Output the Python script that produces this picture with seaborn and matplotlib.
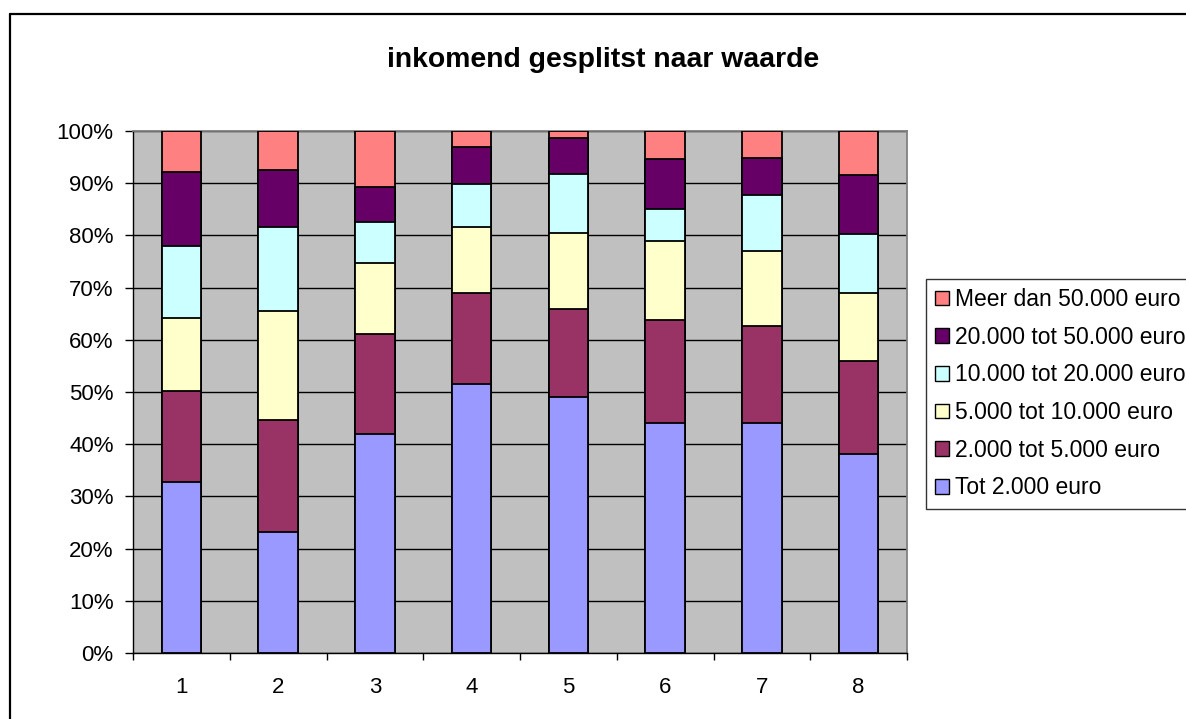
import numpy as np
import pandas as pd
import matplotlib
matplotlib.use("Agg")
import matplotlib.pyplot as plt
from matplotlib.lines import Line2D
import seaborn as sns

categories = [1, 2, 3, 4, 5, 6, 7, 8]
series_names = ["Tot 2.000 euro", "2.000 tot 5.000 euro", "5.000 tot 10.000 euro",
                "10.000 tot 20.000 euro", "20.000 tot 50.000 euro", "Meer dan 50.000 euro"]
tot_2000 = [32.7, 23.1, 41.9, 51.5, 49.1, 44.0, 44.0, 38.2]
r2000_5000 = [17.5, 21.6, 19.2, 17.5, 16.8, 19.7, 18.7, 17.7]
r5000_10000 = [14.0, 20.8, 13.7, 12.6, 14.6, 15.2, 14.4, 13.1]
r10000_20000 = [13.7, 16.1, 7.7, 8.2, 11.3, 6.1, 10.6, 11.2]
r20000_50000 = [14.3, 10.9, 6.7, 7.2, 6.9, 9.6, 7.2, 11.3]
meer_50000 = [7.8, 7.5, 10.8, 3.0, 1.3, 5.4, 5.1, 8.5]
colors = ["#9999FF", "#993366", "#FFFFCC", "#CCFFFF", "#660066", "#FF8080"]
yticks = [0, 10, 20, 30, 40, 50, 60, 70, 80, 90, 100]
ytick_labels = [f"{v}%" for v in yticks]
title = "inkomend gesplitst naar waarde"

sns.set_theme(style="white")
plt.rcParams['font.family'] = ['Liberation Sans', 'DejaVu Sans']
plt.rcParams['text.color'] = 'black'
plt.rcParams['xtick.color'] = 'black'
plt.rcParams['ytick.color'] = 'black'
plt.rcParams['axes.labelcolor'] = 'black'

vals = np.array([tot_2000, r2000_5000, r5000_10000, r10000_20000, r20000_50000, meer_50000])
vals = vals / vals.sum(axis=0) * 100
cum = np.cumsum(vals, axis=0)

fig = plt.figure(figsize=(11.86, 7.19), dpi=100)
ax = fig.add_axes([133/1186, 1-653/719, (907-133)/1186, (653-131)/719])
ax.set_facecolor("#C0C0C0")
ax.set_axisbelow(True)
ax.grid(axis='y', color='black', linewidth=1.0)

# draw cumulative bars from top series to bottom series so each overlays the previous
for k in range(len(series_names) - 1, -1, -1):
    df = pd.DataFrame({"cat": categories, "val": cum[k]})
    sns.barplot(data=df, x="cat", y="val", native_scale=True, width=0.41,
                color=colors[k], saturation=1, edgecolor="black", linewidth=1.3,
                errorbar=None, label=series_names[k], ax=ax, zorder=3)

ax.set_xlim(0.5, 8.5)
ax.set_ylim(0, 100)
ax.set_yticks(yticks)
ax.set_yticklabels(ytick_labels, fontsize=16)
ax.set_xticks(categories)
ax.set_xticklabels([str(c) for c in categories], fontsize=16)
ax.set_xticks(np.arange(0.5, 9.0, 1.0), minor=True)
ax.tick_params(axis='x', which='major', length=0, pad=17)
ax.tick_params(axis='x', which='minor', direction='out', length=5, width=1, color='black', bottom=True)
ax.tick_params(axis='y', direction='out', length=5.5, width=1, color='black', left=True, pad=8.5)
ax.set_xlabel("")
ax.set_ylabel("")
for s in ['top', 'right']:
    ax.spines[s].set_color('#808080')
    ax.spines[s].set_linewidth(1.3)
for s in ['left', 'bottom']:
    ax.spines[s].set_color('black')
    ax.spines[s].set_linewidth(1.0)

leg = ax.legend(loc='upper left', bbox_to_anchor=(926/1186, 1-279/719),
                bbox_transform=fig.transFigure, frameon=True, fancybox=False,
                edgecolor='black', fontsize=16.5, handlelength=0.6, handleheight=0.6,
                handletextpad=0.25, labelspacing=0.64, borderpad=0.4, borderaxespad=0)
leg.get_frame().set_linewidth(1.0)
for h in leg.legend_handles:
    h.set_edgecolor('black')
    h.set_linewidth(1.0)
for t in leg.get_texts():
    t.set_color('black')

fig.text(0.5084, 1-60/719, title, ha='center', va='center', fontsize=20.4,
         fontweight='bold', color='black')

# outer chart border (left and top visible)
fig.add_artist(Line2D([10/1186, 10/1186], [0, 1-14/719], color='black', linewidth=1.6,
                      transform=fig.transFigure))
fig.add_artist(Line2D([10/1186, 1.0], [1-14/719, 1-14/719], color='black', linewidth=1.6,
                      transform=fig.transFigure))

fig.savefig("out.png", dpi=100)
